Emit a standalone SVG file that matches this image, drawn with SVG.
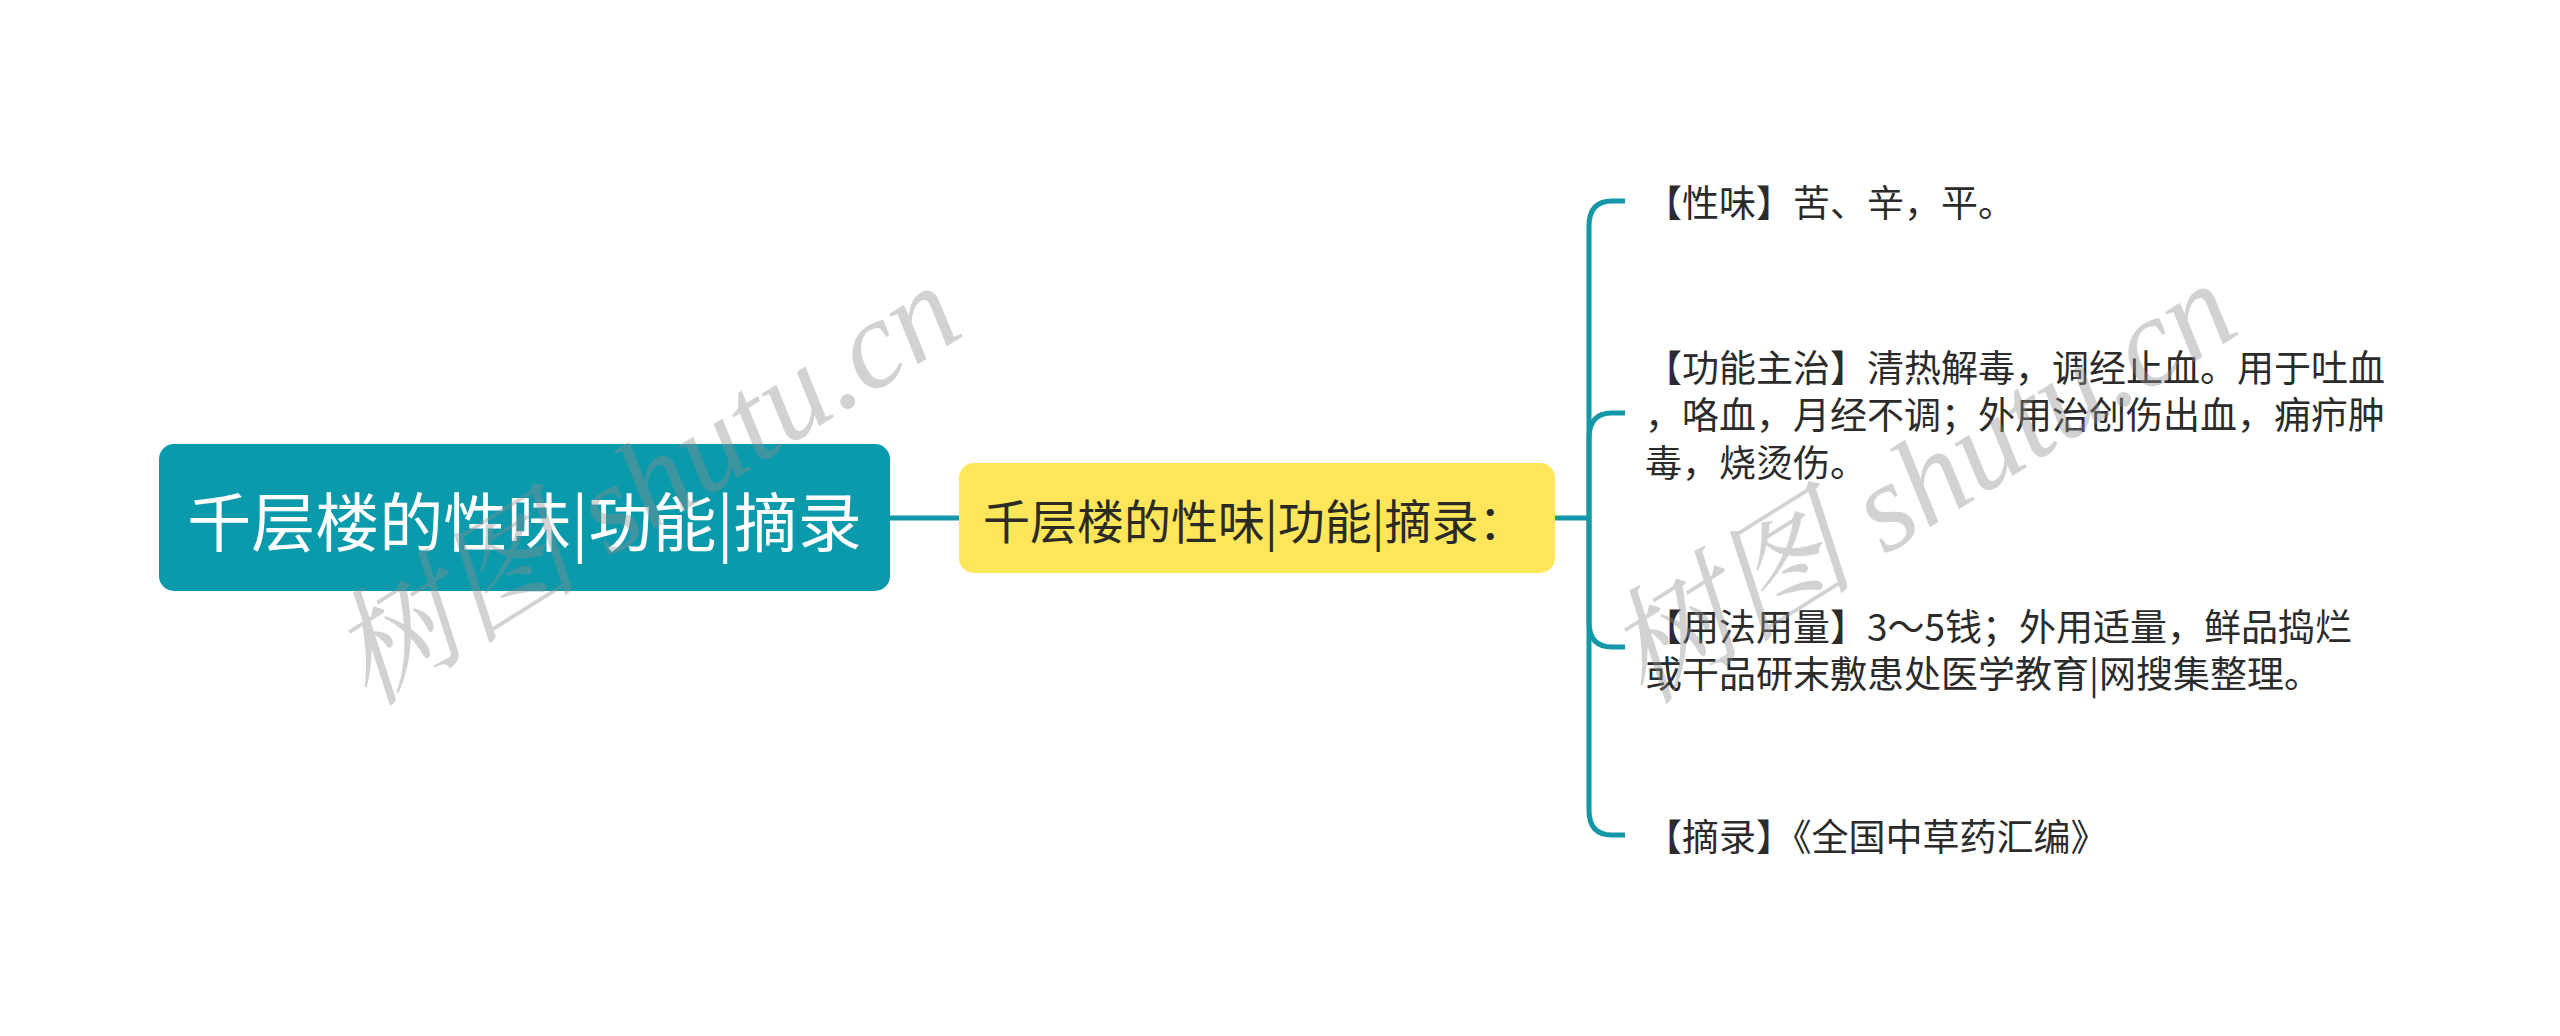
<svg xmlns="http://www.w3.org/2000/svg" width="2560" height="1036" viewBox="0 0 2560 1036">
<style>
.cjk{font-family:"Noto Sans CJK SC","Noto Sans",sans-serif;}
.root-text{font-size:64px;fill:#ffffff;}
.mid-text{font-size:47px;fill:#2b2b25;}
.leaf-text{font-size:37px;fill:#2b2b2b;}
.conn{fill:none;stroke:#1497a7;stroke-width:5;stroke-linecap:butt;}
.wm{font-size:126px;fill:#8f8f8f;fill-opacity:0.4;}
</style>
<rect width="2560" height="1036" fill="#ffffff"/>
<g id="connectors">
<path class="conn" d="M890,518 H959"/>
<path class="conn" d="M1555,518 H1589"/>
<path class="conn" d="M1589,518 V226 Q1589,201 1612,201 H1625"/>
<path class="conn" d="M1589,518 V438 Q1589,413 1612,413 H1625"/>
<path class="conn" d="M1589,518 V622 Q1589,647 1612,647 H1625"/>
<path class="conn" d="M1589,518 V810 Q1589,835 1612,835 H1625"/>
</g>
<g id="node-root">
<rect x="159" y="444" width="731" height="147" rx="15" fill="#0b9aab"/>
<text class="cjk root-text" x="524.5" y="518" text-anchor="middle" dominant-baseline="central">千层楼的性味|功能|摘录</text>
</g>
<g id="node-mid">
<rect x="959" y="463" width="596" height="110" rx="15" fill="#fee65a"/>
<text class="cjk mid-text" x="983" y="518" dominant-baseline="central">千层楼的性味|功能|摘录：</text>
</g>
<g id="node-leaf1">
<text class="cjk leaf-text" x="1645" y="201" dominant-baseline="central">【性味】苦、辛，平。</text>
</g>
<g id="node-leaf2">
<text class="cjk leaf-text" x="1645" dominant-baseline="central">
<tspan x="1645" y="366">【功能主治】清热解毒，调经止血。用于吐血</tspan>
<tspan x="1645" y="413">，咯血，月经不调；外用治创伤出血，痈疖肿</tspan>
<tspan x="1645" y="461">毒，烧烫伤。</tspan>
</text>
</g>
<g id="node-leaf3">
<text class="cjk leaf-text" x="1645" dominant-baseline="central">
<tspan x="1645" y="625">【用法用量】3～5钱；外用适量，鲜品捣烂</tspan>
<tspan x="1645" y="672">或干品研末敷患处医学教育|网搜集整理。</tspan>
</text>
</g>
<g id="node-leaf4">
<text class="cjk leaf-text" x="1645" y="835" dominant-baseline="central">【摘录】《全国中草药汇编》</text>
</g>
<g id="watermarks">
<text class="wm" transform="translate(368,708) rotate(-32)" font-family="'Liberation Serif','Noto Serif CJK SC','Noto Sans CJK SC',serif" font-style="italic">树图 shutu.cn</text>
<text class="wm" transform="translate(1644,706) rotate(-32)" font-family="'Liberation Serif','Noto Serif CJK SC','Noto Sans CJK SC',serif" font-style="italic">树图 shutu.cn</text>
</g>
</svg>
